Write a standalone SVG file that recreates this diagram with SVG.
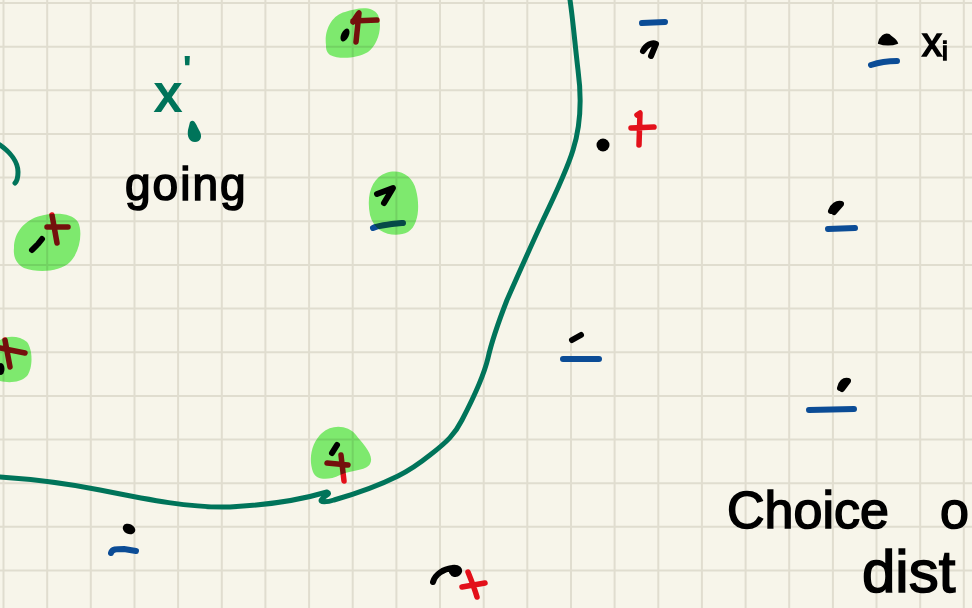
<svg xmlns="http://www.w3.org/2000/svg" width="972" height="608" viewBox="0 0 972 608">
  <style>
    .grid { stroke: #e0ddcf; stroke-width: 2; fill: none; }
    .ink { fill: none; stroke-linecap: round; stroke-linejoin: round; }
    .blk { stroke: #000; stroke-width: 6; }
    .blu { stroke: #0b4c96; stroke-width: 6; }
    .red { stroke: #e3101a; stroke-width: 5.5; }
    .grn { stroke: #00745a; stroke-width: 5; }
    .hl { fill: #82f378; mix-blend-mode: multiply; }
    .hand { font-family: "Liberation Sans", Arial, sans-serif; fill: #000; stroke: #000; stroke-width: 1.6; }
  </style>

  <!-- paper -->
  <rect width="972" height="608" fill="#f7f5ea"/>
  <path class="grid" d="M3.5,0V608M47.2,0V608M90.8,0V608M134.5,0V608M178.1,0V608M221.8,0V608M265.4,0V608M309.1,0V608M352.7,0V608M396.4,0V608M440,0V608M483.7,0V608M527.3,0V608M571,0V608M614.6,0V608M658.3,0V608M701.9,0V608M745.6,0V608M789.2,0V608M832.9,0V608M876.5,0V608M920.2,0V608M963.8,0V608
    M0,3H972M0,46.7H972M0,90.3H972M0,134H972M0,177.6H972M0,221.3H972M0,264.9H972M0,308.6H972M0,352.2H972M0,395.9H972M0,439.5H972M0,483.2H972M0,526.8H972M0,570.5H972"/>

  <!-- decision boundary -->
  <g id="boundary">
    <path class="ink grn" d="M570,0 C573,20 575,45 578,70 C582,100 581,125 573,150 C567,170 555,195 543,220 C530,248 518,275 507,300 C500,318 492,340 488,358 C484,375 475,395 462,420 C455,434 447,442 430,455 C420,463 410,470 398,476 C380,485 355,494 334,500 C328,502 318,503 322,499 C326,495 331,494 327,492 C300,500 270,505 230,507 C190,508 150,500 100,490 C65,483 30,479 0,477"/>
    <path class="ink grn" d="M0,145 C10,152 18,162 18,172 C18,178 16,182 15,183"/>
  </g>

  <!-- query point x' -->
  <g id="query">
    <text x="155" y="111" font-family="Liberation Sans, Arial, sans-serif" font-size="52" fill="#00745a" stroke="#00745a" stroke-width="2">x<tspan x="184" y="80" font-size="34">'</tspan></text>
    <path d="M190,122 C194,118 196,124 199,130 C203,136 201,142 195,142 C189,142 187,136 188,130Z" fill="#00745a"/>
    <text class="hand" x="125" y="200" font-size="46" letter-spacing="2">going</text>
  </g>

  <!-- positive points -->
  <g id="pos-top">
    <ellipse cx="345" cy="35" rx="3.8" ry="7" transform="rotate(25 345 35)" fill="#000"/>
    <path class="ink red" d="M353,22 C356,17 358,14 359,13 L356,42 M353,21 L377,20"/>
  </g>
  <g id="pos-left">
    <path class="ink blk" d="M32,250 L36,246 M38,244 L42,239"/>
    <path class="ink red" d="M52,215 L57,243 M47,227 L68,227"/>
  </g>
  <g id="pos-edge">
    <path class="ink red" d="M5,340 L10,367 M0,348 L25,353"/>
    <ellipse cx="1" cy="369" rx="3.5" ry="6" fill="#000"/>
  </g>
  <g id="pos-low">
    <path class="ink blk" d="M332,453 L337,445"/>
    <path class="ink red" d="M327,463 L348,465 M341,455 L344,481"/>
  </g>
  <g id="pos-right">
    <circle cx="603" cy="145" r="6.5" fill="#000"/>
    <path class="ink red" d="M637,115 L640,113 L639,145 M631,128 L654,127"/>
  </g>
  <g id="pos-bottom">
    <path class="ink blk" d="M433,582 C435,574 444,569 452,568 C458,567 461,570 458,573 C456,575 453,574 452,572"/>
    <path class="ink red" d="M468,572 C472,582 475,590 477,597 M462,587 L485,583"/>
  </g>

  <!-- negative points -->
  <g id="neg-mid">
    <path class="ink blk" d="M377,194 L393,188 L384,203"/>
    <path class="ink blu" d="M373,228 C380,225 392,224 403,223"/>
  </g>
  <g id="neg-top">
    <path class="ink blk" d="M643,51 C646,45 652,42 656,44 L651,56"/>
    <path class="ink blu" d="M642,23 L665,22"/>
  </g>
  <g id="neg-corner">
    <path d="M879,43 C880,37 885,33 889,35 C892,38 896,40 897,43 C892,45 884,45 879,43Z" fill="#000" stroke="#000" stroke-width="2"/>
    <path class="ink blu" d="M871,65 C880,62 890,61 897,61"/>
    <text class="hand" x="922" y="56" font-size="40">x<tspan font-size="26" dy="4">i</tspan></text>
  </g>
  <g id="neg-a">
    <path class="ink blk" d="M831,211 C833,206 837,203 841,204 L834,212"/>
    <path class="ink blu" d="M828,229 L855,228"/>
  </g>
  <g id="neg-b">
    <path class="ink blk" d="M572,340 L581,335"/>
    <path class="ink blu" d="M563,359 L599,359"/>
  </g>
  <g id="neg-c">
    <path class="ink blk" d="M840,388 C841,383 844,380 848,381 L842,389"/>
    <path class="ink blu" d="M809,410 L854,409"/>
  </g>
  <g id="neg-d">
    <ellipse cx="129" cy="529" rx="6.5" ry="5" transform="rotate(25 129 529)" fill="#000"/>
    <path class="ink blu" d="M111,553 C112,549 116,549 124,549 L136,551"/>
  </g>

  <!-- highlighter marks -->
  <g id="highlights">
    <path class="hl" d="M326,45 C324,30 332,15 345,12 C357,8 372,5 378,15 C383,27 378,45 368,52 C358,58 340,60 330,55 C326,52 326,48 326,45Z"/>
    <path class="hl" d="M14,248 C14,232 25,220 40,216 C55,212 72,213 78,222 C83,232 80,252 70,262 C60,272 38,273 24,268 C16,264 13,256 14,248Z"/>
    <path class="hl" d="M0,340 C8,335 20,336 27,342 C33,350 33,368 27,376 C20,383 8,383 0,381Z"/>
    <path class="hl" d="M313,472 C308,458 312,442 322,433 C332,424 348,425 356,435 C362,443 375,455 370,464 C366,471 350,470 340,475 C328,481 316,480 313,472Z"/>
    <path class="hl" d="M370,215 C366,195 372,178 386,173 C400,168 413,176 416,190 C420,205 419,225 408,232 C396,238 375,235 370,215Z"/>
  </g>

  <!-- notes -->
  <g id="notes">
    <text class="hand" x="727" y="528" font-size="52">Choice <tspan x="940">o</tspan></text>
    <text class="hand" x="862" y="592" font-size="60">dist</text>
  </g>
</svg>
